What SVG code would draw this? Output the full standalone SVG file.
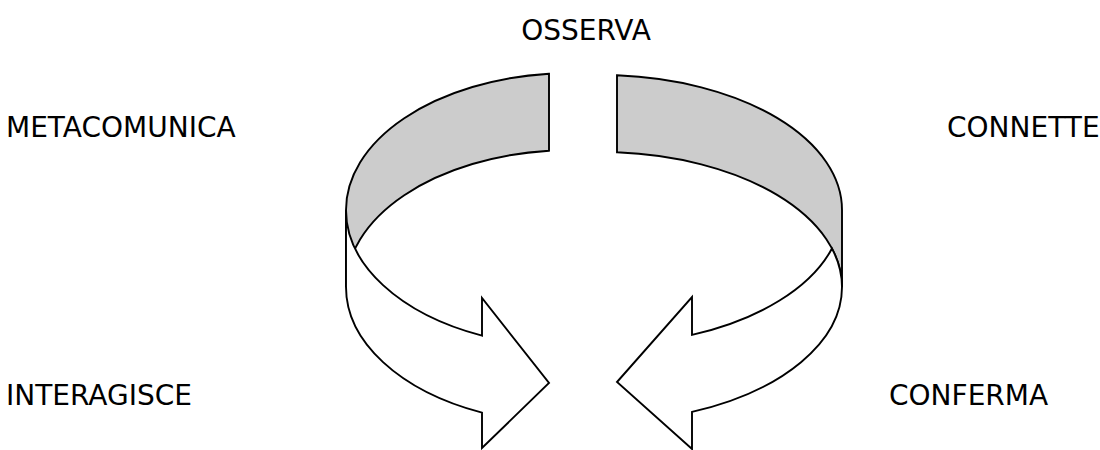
<svg xmlns="http://www.w3.org/2000/svg" width="1100" height="450" viewBox="0 0 1100 450">
  <style>
    .lbl { font-family: "DejaVu Sans", Verdana, sans-serif; font-size: 28px; fill: #000; }
    .back { fill: #cccccc; stroke: #000; stroke-width: 1.9; stroke-linejoin: miter; }
    .front { fill: #ffffff; stroke: #000; stroke-width: 1.9; stroke-linejoin: miter; }
  </style>
  <rect width="1100" height="450" fill="#ffffff"/>
  <g id="arrow-left">
    <path class="back" d="M 549,73.7 A 226 137 0 0 0 346,210 L 346,287 A 226 137 0 0 1 549,150.7 Z"/>
    <path class="front" d="M 346,210 A 226 137 0 0 0 482,335.7 L 482,298 L 549,383 L 482,448 L 482,412.7 A 226 137 0 0 1 346,287 Z"/>
  </g>
  <g id="arrow-right">
    <path class="back" d="M 617,75.3 A 242 135 0 0 1 842,210 L 842,287 A 242 135 0 0 0 617,152.3 Z"/>
    <path class="front" d="M 831.95,248.5 A 242 135 0 0 1 692,334.9 L 692,297 L 617,382 L 692,449 L 692,411.9 A 242 135 0 0 0 842,287 A 242 135 0 0 0 831.95,248.5 Z"/>
  </g>
  <g id="connectors"></g>
  <g id="label-osserva"><text class="lbl" x="586" y="40" text-anchor="middle">OSSERVA</text></g>
  <g id="label-metacomunica"><text class="lbl" x="6" y="137">METACOMUNICA</text></g>
  <g id="label-connette"><text class="lbl" x="947" y="137">CONNETTE</text></g>
  <g id="label-interagisce"><text class="lbl" x="6" y="405">INTERAGISCE</text></g>
  <g id="label-conferma"><text class="lbl" x="889" y="405">CONFERMA</text></g>
</svg>
